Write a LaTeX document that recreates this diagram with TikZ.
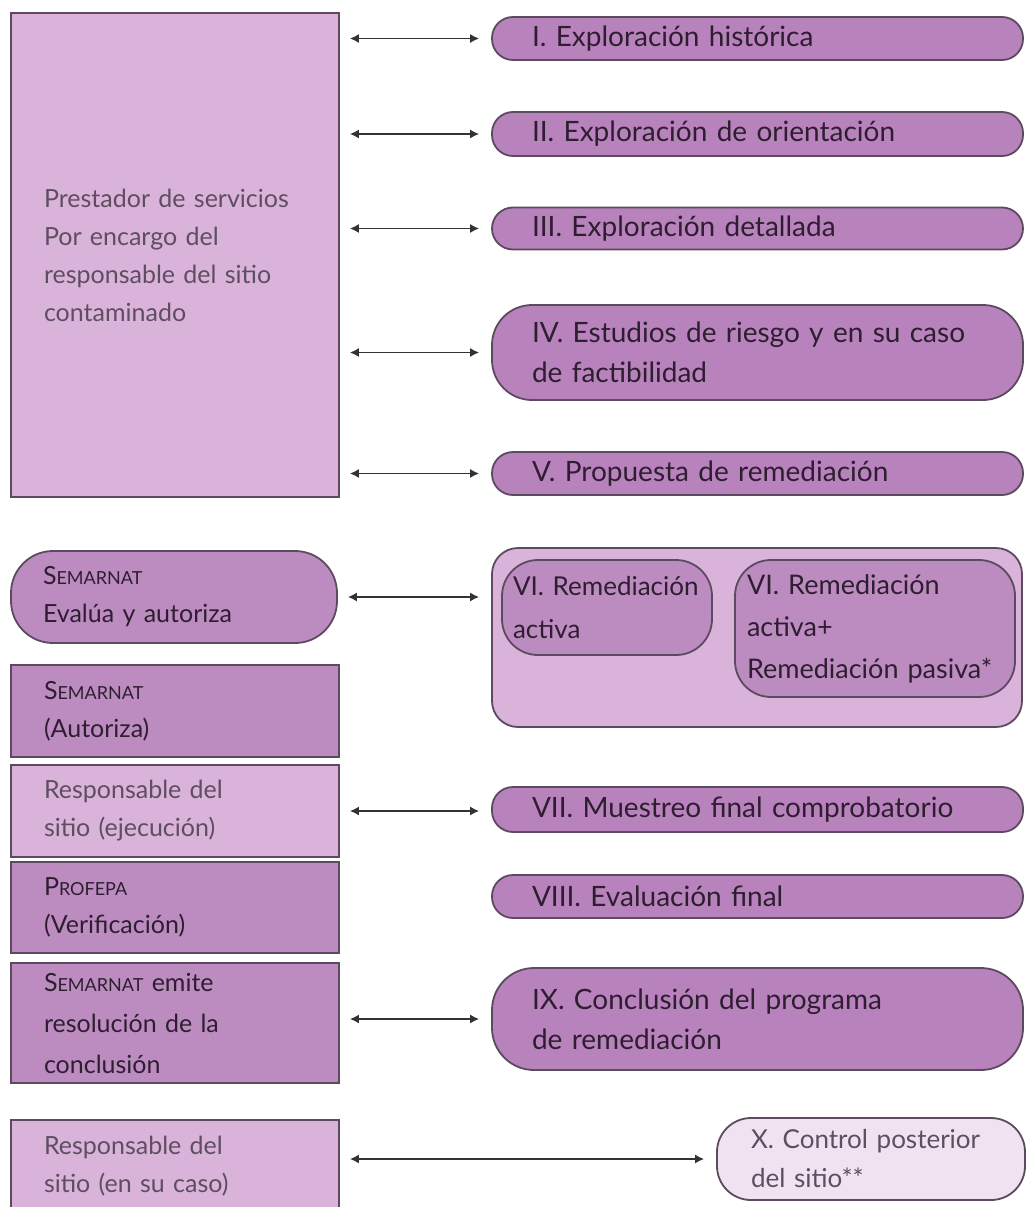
\documentclass[tikz,border=0pt]{standalone}
\usepackage{fontspec}
\setmainfont{Lato}
\usetikzlibrary{arrows.meta}
\definecolor{lightfill}{HTML}{D9B3DA}
\definecolor{darkfill}{HTML}{BC8CC1}
\definecolor{pillfill}{HTML}{B882BD}
\definecolor{palefill}{HTML}{F1E2F1}
\definecolor{edge}{HTML}{5C4A5E}
\definecolor{softtext}{HTML}{5E4E60}
\definecolor{hardtext}{HTML}{2E1E30}
\definecolor{linkcol}{HTML}{333333}
% fake small caps: first letter full size, the rest reduced
\newcommand\smcp[2]{#1{\fontsize{18}{18}\selectfont #2}}
\begin{document}
\begin{tikzpicture}[x=1pt,y=-1pt,
  base/.style={draw=edge, line width=1.8pt, align=left, inner xsep=0pt, inner ysep=0pt,
    font=\fontsize{25}{38}\selectfont},
  lbox/.style={base, fill=lightfill, text=softtext},
  dbox/.style={base, fill=darkfill, text=hardtext},
  pill/.style={base, fill=pillfill, text=hardtext, rounded corners=21pt,
    minimum width=531pt, text width=451pt, font=\fontsize{28}{40}\selectfont},
  link/.style={draw=linkcol, line width=1.4pt, {Latex[length=9pt,width=9pt]}-{Latex[length=9pt,width=9pt]},
    shorten <=10pt, shorten >=12pt}
]
\useasboundingbox (0,0) rectangle (1029,1207);

% left column: actors
\node[lbox, minimum width=328pt, minimum height=484pt, text width=262pt] (prest) at (175,255)
  {Prestador de servicios\\Por encargo del\\responsable del sitio\\contaminado};
\node[dbox, rounded corners=42pt, minimum width=326pt, minimum height=92pt, text width=262pt] (sem1) at (174,597)
  {\smcp{S}{EMARNAT}\\Evalúa y autoriza};
\node[dbox, minimum width=328pt, minimum height=92pt, text width=262pt] (sem2) at (175,711)
  {\smcp{S}{EMARNAT}\\(Autoriza)};
\node[lbox, minimum width=328pt, minimum height=92pt, text width=262pt] (resp1) at (175,811)
  {Responsable del\\sitio (ejecución)};
\node[dbox, minimum width=328pt, minimum height=91pt, text width=262pt] (profepa) at (175,907.5)
  {\smcp{P}{ROFEPA}\\(Verificación)};
\node[dbox, minimum width=328pt, minimum height=120pt, text width=262pt, font=\fontsize{25}{41}\selectfont] (sem3) at (175,1023)
  {\smcp{S}{EMARNAT} emite\\resolución de la\\conclusión};
\node[lbox, minimum width=328pt, minimum height=92pt, text width=262pt] (resp2) at (175,1166)
  {Responsable del\\sitio (en su caso)};

% right column: stages
\node[pill, minimum height=43pt] (p1) at (757.5,38.5) {I. Exploración histórica};
\node[pill, minimum height=44pt] (p2) at (757.5,134) {II. Exploración de orientación};
\node[pill, minimum height=42pt] (p3) at (757.5,228.5) {III. Exploración detallada};
\node[pill, minimum height=95pt, rounded corners=40pt] (p4) at (757.5,352.5)
  {IV. Estudios de riesgo y en su caso\\de factibilidad};
\node[pill, minimum height=43pt] (p5) at (757.5,473.5) {V. Propuesta de remediación};

\node[base, fill=lightfill, rounded corners=26pt, minimum width=530pt, minimum height=179pt] (vi) at (757,637.5) {};
\node[dbox, rounded corners=36pt, minimum width=210pt, minimum height=95pt, text width=188pt,
  font=\fontsize{26}{43}\selectfont] (via) at (607,607.5) {VI. Remediación\\activa};
\node[dbox, rounded corners=36pt, minimum width=280pt, minimum height=137pt, text width=256pt,
  font=\fontsize{27}{42}\selectfont] (vib) at (875,628.5) {VI. Remediación\\activa+\\Remediación pasiva*};

\node[pill, minimum height=45pt] (p7) at (757.5,809.5) {VII. Muestreo final comprobatorio};
\node[pill, minimum height=43pt] (p8) at (757.5,896.5) {VIII. Evaluación final};
\node[pill, minimum height=102pt, rounded corners=42pt] (p9) at (757.5,1019)
  {IX. Conclusión del programa\\de remediación};
\node[base, fill=palefill, text=softtext, rounded corners=34pt, minimum width=308pt, minimum height=82pt,
  text width=240pt, font=\fontsize{26}{39}\selectfont] (px) at (871,1159) {X. Control posterior\\del sitio**};

% connectors
\draw[link] (prest.east |- p1.west) -- (p1.west);
\draw[link] (prest.east |- p2.west) -- (p2.west);
\draw[link] (prest.east |- p3.west) -- (p3.west);
\draw[link] (prest.east |- p4.west) -- (p4.west);
\draw[link] (prest.east |- p5.west) -- (p5.west);
\draw[link] (sem1.east) -- (sem1.east -| vi.west);
\draw[link] (resp1.east) -- (resp1.east -| p7.west);
\draw[link] (sem3.east |- p9.west) -- (p9.west);
\draw[link] (resp2.east |- px.west) -- (px.west);
\end{tikzpicture}
\end{document}
